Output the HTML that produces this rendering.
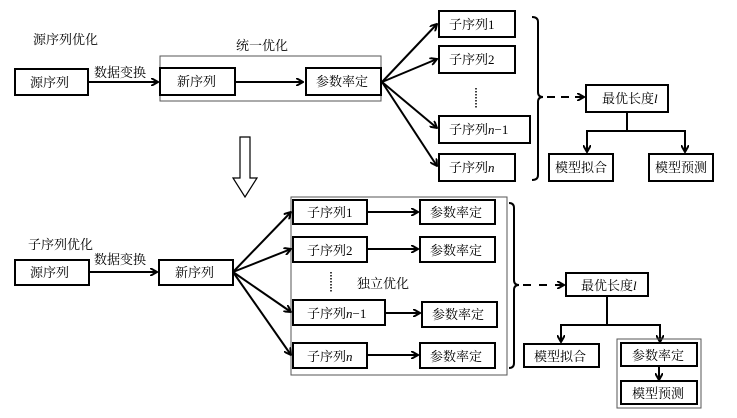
<!DOCTYPE html>
<html><head><meta charset="utf-8"><style>
html,body{margin:0;padding:0;background:#fff;}
svg{display:block;}
text{font-family:"Liberation Serif","Noto Serif CJK SC","Noto Sans CJK SC",serif;font-size:13px;fill:#000;}
.b{fill:#fff;stroke:#000;stroke-width:2;}
.t{fill:none;stroke:#555;stroke-width:1;}
.l{stroke:#000;stroke-width:2;fill:none;}
</style></head><body>
<svg width="737" height="418" viewBox="0 0 737 418" xmlns="http://www.w3.org/2000/svg">
<defs><marker id="a" markerWidth="8" markerHeight="8" refX="7" refY="4" orient="auto" markerUnits="userSpaceOnUse"><path d="M0,0 L7,4 L0,8" fill="none" stroke="#000" stroke-width="2"/></marker></defs>

<!-- TOP -->
<text x="33" y="44">源序列优化</text>
<text x="236" y="50">统一优化</text>
<rect class="t" x="160" y="56" width="221" height="45"/>
<rect class="b" x="15" y="69" width="73" height="26"/><text x="30" y="87">源序列</text>
<text x="94" y="77">数据变换</text>
<line class="l" x1="88" y1="82" x2="158" y2="82" marker-end="url(#a)"/>
<rect class="b" x="160" y="68" width="75" height="27"/><text x="177" y="86">新序列</text>
<line class="l" x1="235" y1="82" x2="303" y2="82" marker-end="url(#a)"/>
<rect class="b" x="306" y="68" width="75" height="27"/><text x="316" y="86">参数率定</text>
<line class="l" x1="382" y1="82" x2="437" y2="24" marker-end="url(#a)"/>
<line class="l" x1="382" y1="82" x2="437" y2="59" marker-end="url(#a)"/>
<line class="l" x1="382" y1="82" x2="437" y2="128" marker-end="url(#a)"/>
<line class="l" x1="382" y1="82" x2="437" y2="166" marker-end="url(#a)"/>
<rect class="b" x="439" y="11" width="76" height="26"/><text x="449" y="29">子序列1</text>
<rect class="b" x="439" y="46" width="76" height="27"/><text x="449" y="64">子序列2</text>
<line x1="476" y1="88" x2="476" y2="108" stroke="#000" stroke-width="1.5" stroke-dasharray="1.5,1.5"/>
<rect class="b" x="439" y="116" width="91" height="27"/><text x="449" y="134">子序列<tspan font-style="italic">n</tspan>−1</text>
<rect class="b" x="439" y="154" width="76" height="27"/><text x="449" y="172">子序列<tspan font-style="italic">n</tspan></text>
<path class="l" d="M532,17 Q538,17 538,22 L538,92 Q538,97 543,97 Q538,97 538,102 L538,175 Q538,180 532,180"/>
<line class="l" x1="547" y1="97" x2="584" y2="97" stroke-dasharray="8,6" marker-end="url(#a)"/>
<rect class="b" x="586" y="85" width="82" height="27"/><text x="602" y="103">最优长度<tspan font-style="italic">l</tspan></text>
<path class="l" d="M627,112 L627,131 M587,131 L685,131"/>
<line class="l" x1="587" y1="130" x2="587" y2="152" marker-end="url(#a)"/>
<line class="l" x1="685" y1="130" x2="685" y2="152" marker-end="url(#a)"/>
<rect class="b" x="549" y="154" width="64" height="27"/><text x="555" y="172">模型拟合</text>
<rect class="b" x="649" y="154" width="64" height="27"/><text x="655" y="172">模型预测</text>
<path d="M240,137 L250,137 L250,178 L257,178 L245,197 L233,178 L240,178 Z" fill="#fff" stroke="#000" stroke-width="1.2"/>

<!-- BOTTOM -->
<text x="28" y="249">子序列优化</text>
<rect class="t" x="291" y="197" width="216" height="178"/>
<rect class="b" x="15" y="260" width="74" height="25"/><text x="30" y="277">源序列</text>
<text x="94" y="264">数据变换</text>
<line class="l" x1="89" y1="272" x2="157" y2="272" marker-end="url(#a)"/>
<rect class="b" x="159" y="260" width="74" height="25"/><text x="175" y="277">新序列</text>
<line class="l" x1="233" y1="272" x2="291" y2="212" marker-end="url(#a)"/>
<line class="l" x1="233" y1="272" x2="291" y2="249" marker-end="url(#a)"/>
<line class="l" x1="233" y1="272" x2="291" y2="312" marker-end="url(#a)"/>
<line class="l" x1="233" y1="272" x2="291" y2="355" marker-end="url(#a)"/>
<rect class="b" x="293" y="200" width="74" height="24"/><text x="307" y="217">子序列1</text>
<rect class="b" x="293" y="237" width="74" height="25"/><text x="307" y="255">子序列2</text>
<rect class="b" x="293" y="300" width="92" height="25"/><text x="307" y="318">子序列<tspan font-style="italic">n</tspan>−1</text>
<rect class="b" x="293" y="343" width="74" height="25"/><text x="307" y="361">子序列<tspan font-style="italic">n</tspan></text>
<line x1="331" y1="272" x2="331" y2="292" stroke="#000" stroke-width="1.5" stroke-dasharray="1.5,1.5"/>
<text x="357" y="288">独立优化</text>
<line class="l" x1="367" y1="212" x2="418" y2="212" marker-end="url(#a)"/>
<line class="l" x1="367" y1="249" x2="418" y2="249" marker-end="url(#a)"/>
<line class="l" x1="385" y1="313" x2="420" y2="313" marker-end="url(#a)"/>
<line class="l" x1="367" y1="355" x2="418" y2="355" marker-end="url(#a)"/>
<rect class="b" x="420" y="200" width="75" height="24"/><text x="430" y="217">参数率定</text>
<rect class="b" x="420" y="237" width="75" height="25"/><text x="430" y="255">参数率定</text>
<rect class="b" x="422" y="302" width="75" height="25"/><text x="432" y="319">参数率定</text>
<rect class="b" x="420" y="343" width="75" height="25"/><text x="430" y="361">参数率定</text>
<path class="l" d="M509,203 Q514,203 514,208 L514,280 Q514,285 519,285 Q514,285 514,290 L514,363 Q514,368 509,368"/>
<line class="l" x1="523" y1="285" x2="564" y2="285" stroke-dasharray="8,8" marker-end="url(#a)"/>
<rect class="b" x="566" y="273" width="82" height="23"/><text x="581" y="290">最优长度<tspan font-style="italic">l</tspan></text>
<path class="l" d="M607,296 L607,325 M561,325 L660,325"/>
<line class="l" x1="561" y1="324" x2="561" y2="342" marker-end="url(#a)"/>
<line class="l" x1="660" y1="324" x2="660" y2="342" marker-end="url(#a)"/>
<rect class="b" x="524" y="344" width="75" height="23"/><text x="534" y="361">模型拟合</text>
<rect class="t" x="617" y="339" width="84" height="69"/>
<rect class="b" x="621" y="343" width="76" height="23"/><text x="632" y="360">参数率定</text>
<line class="l" x1="659" y1="366" x2="659" y2="380" marker-end="url(#a)"/>
<rect class="b" x="621" y="381" width="76" height="23"/><text x="632" y="398">模型预测</text>
</svg>
</body></html>
